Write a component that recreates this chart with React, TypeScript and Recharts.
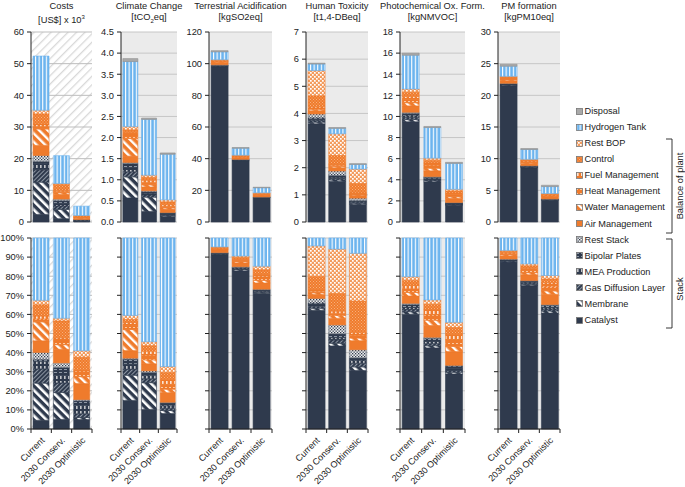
import React from "react";
import { Bar, BarChart, CartesianGrid, XAxis, YAxis } from "recharts";

const FONT = "'Liberation Sans', Arial, sans-serif";

const scenarios = ["Current", "2030 Conserv.", "2030 Optimistic"];

// stacking order, bottom to top
const components = [
  "Catalyst",
  "Membrane",
  "Gas Diffusion Layer",
  "MEA Production",
  "Bipolar Plates",
  "Rest Stack",
  "Air Management",
  "Water Management",
  "Heat Management",
  "Fuel Management",
  "Control",
  "Rest BOP",
  "Hydrogen Tank",
  "Disposal",
];

// one row per component, one column per scenario
const costs = [
  [2.4, 1.05, 0.25],
  [10.2, 2.95, 0.05],
  [3.9, 1.05, 0.1],
  [2.1, 0.85, 0.22],
  [0.5, 0.85, 0.12],
  [1.9, 0.5, 0.03],
  [3.2, 1.5, 0.42],
  [5.2, 0.5, 0.18],
  [0.8, 0.4, 0.15],
  [0.8, 0.35, 0.03],
  [3.1, 1.85, 0.33],
  [1.2, 0.3, 0.17],
  [17.1, 8.8, 2.95],
  [0, 0, 0],
];

const climate = [
  [0.57, 0.25, 0.13],
  [0.5, 0.34, 0.025],
  [0.12, 0.05, 0.02],
  [0.1, 0.04, 0.02],
  [0.1, 0.04, 0.025],
  [0.02, 0.02, 0.005],
  [0.15, 0.09, 0.08],
  [0.42, 0.05, 0.03],
  [0.08, 0.06, 0.04],
  [0.06, 0.05, 0.04],
  [0.06, 0.07, 0.06],
  [0.08, 0.05, 0.05],
  [1.54, 1.32, 1.08],
  [0.07, 0.03, 0.03],
];

const acidification = [
  [98, 38.6, 15.4],
  [0.3, 0.3, 0.1],
  [0.3, 0.2, 0.1],
  [0.2, 0.2, 0.1],
  [0.3, 0.2, 0.1],
  [0.2, 0.1, 0.05],
  [1.5, 0.9, 0.7],
  [0.3, 0.3, 0.3],
  [0.3, 0.3, 0.4],
  [0.3, 0.3, 0.3],
  [0.5, 0.5, 0.5],
  [0.3, 0.3, 0.4],
  [5, 4.4, 3.2],
  [0.7, 0.4, 0.3],
];

const toxicity = [
  [3.62, 1.5, 0.65],
  [0.06, 0.05, 0.04],
  [0.06, 0.06, 0.04],
  [0.04, 0.04, 0.03],
  [0.06, 0.07, 0.03],
  [0.14, 0.16, 0.09],
  [0.12, 0.12, 0.1],
  [0.05, 0.05, 0.03],
  [0.05, 0.04, 0.03],
  [0.05, 0.04, 0.03],
  [0.4, 0.32, 0.35],
  [0.93, 0.8, 0.53],
  [0.24, 0.2, 0.17],
  [0.03, 0.03, 0.03],
];

const photochem = [
  [9.5, 3.8, 1.6],
  [0.2, 0.1, 0.05],
  [0.2, 0.1, 0.05],
  [0.15, 0.1, 0.05],
  [0.25, 0.15, 0.08],
  [0.1, 0.05, 0.02],
  [0.6, 0.55, 0.4],
  [0.3, 0.25, 0.15],
  [0.3, 0.25, 0.2],
  [0.3, 0.25, 0.15],
  [0.4, 0.25, 0.2],
  [0.3, 0.2, 0.15],
  [3.2, 2.9, 2.45],
  [0.2, 0.1, 0.1],
];

const pmFormation = [
  [21.5, 8.6, 3.4],
  [0.1, 0.07, 0.06],
  [0.1, 0.07, 0.06],
  [0.05, 0.05, 0.04],
  [0.1, 0.08, 0.07],
  [0.05, 0.03, 0.02],
  [0.4, 0.35, 0.3],
  [0.15, 0.12, 0.1],
  [0.15, 0.13, 0.12],
  [0.15, 0.13, 0.12],
  [0.15, 0.15, 0.11],
  [0.1, 0.12, 0.1],
  [1.6, 1.55, 1.1],
  [0.3, 0.15, 0.2],
];

const costsTicks = [0, 10, 20, 30, 40, 50, 60];
const climateTicks = [0, 0.5, 1, 1.5, 2, 2.5, 3, 3.5, 4, 4.5];
const acidTicks = [0, 20, 40, 60, 80, 100, 120];
const toxTicks = [0, 1, 2, 3, 4, 5, 6, 7];
const photoTicks = [0, 2, 4, 6, 8, 10, 12, 14, 16, 18];
const pmTicks = [0, 5, 10, 15, 20, 25, 30];
const shareTicks = [0, 0.1, 0.2, 0.3, 0.4, 0.5, 0.6, 0.7, 0.8, 0.9, 1];

const NAVY = "#2f3a4d";
const ORANGE = "#ef7b2c";
const BLUE = "#6cb4ee";

const fills = [
  NAVY,
  "url(#pMem)",
  "url(#pGdl)",
  "url(#pMea)",
  "url(#pBip)",
  "url(#pRest)",
  ORANGE,
  "url(#pWater)",
  "url(#pHeat)",
  "url(#pFuel)",
  "url(#pCtrl)",
  "url(#pBop)",
  "url(#pH2)",
  "#a9a9a9",
];
const strokes = [
  NAVY, NAVY, NAVY, NAVY, NAVY, "#6b7380",
  ORANGE, ORANGE, ORANGE, ORANGE, ORANGE, ORANGE,
  BLUE, "#8f8f8f",
];

type Panel = {
  title: string;
  unit: React.ReactNode;
  values: number[][];
  ticks: number[];
  fmt: (v: number) => string;
  left: number;
  right: number;
  bg: string;
};

const panels: Panel[] = [
  { title: "Costs", unit: <>[US$] x 10<sup style={{ fontSize: 6 }}>3</sup></>, values: costs, ticks: costsTicks, fmt: (v) => String(v), left: 31, right: 92, bg: "url(#pCostBg)" },
  { title: "Climate Change", unit: <>[tCO<sub style={{ fontSize: 6 }}>2</sub>eq]</>, values: climate, ticks: climateTicks, fmt: (v) => v.toFixed(1), left: 121, right: 177, bg: "#ebebeb" },
  { title: "Terrestrial Acidification", unit: "[kgSO2eq]", values: acidification, ticks: acidTicks, fmt: (v) => String(v), left: 209, right: 272, bg: "#ebebeb" },
  { title: "Human Toxicity", unit: "[t1,4-DBeq]", values: toxicity, ticks: toxTicks, fmt: (v) => String(v), left: 306, right: 368, bg: "#ebebeb" },
  { title: "Photochemical Ox. Form.", unit: "[kgNMVOC]", values: photochem, ticks: photoTicks, fmt: (v) => String(v), left: 400, right: 465, bg: "#ebebeb" },
  { title: "PM formation", unit: "[kgPM10eq]", values: pmFormation, ticks: pmTicks, fmt: (v) => String(v), left: 498, right: 560, bg: "#ebebeb" },
];

const rowsFor = (values: number[][]) =>
  scenarios.map((name, j) => {
    const row: Record<string, number | string> = { name };
    components.forEach((_, i) => {
      row[`c${i}`] = values[i][j];
    });
    return row;
  });

const AXIS_W = 32;

function Patterns() {
  return (
    <svg width={0} height={0} style={{ position: "absolute", left: 0, top: 0 }}>
      <defs>
        <pattern id="pCostBg" width="6" height="6" patternUnits="userSpaceOnUse" patternTransform="rotate(45)">
          <rect width="6" height="6" fill="#ffffff" />
          <rect width="1.3" height="6" fill="#d9d9d9" />
        </pattern>
        <pattern id="pMem" width="6" height="6" patternUnits="userSpaceOnUse" patternTransform="rotate(-45)">
          <rect width="6" height="6" fill={NAVY} />
          <rect width="2.6" height="6" fill="#ffffff" />
        </pattern>
        <pattern id="pGdl" width="3" height="3" patternUnits="userSpaceOnUse" patternTransform="rotate(45)">
          <rect width="3" height="3" fill={NAVY} />
          <rect width="1" height="3" fill="#8e97a4" />
        </pattern>
        <pattern id="pMea" width="4" height="5" patternUnits="userSpaceOnUse">
          <rect width="4" height="5" fill={NAVY} />
          <rect x="1.2" y="1" width="1.3" height="3" fill="#e6e6e6" />
        </pattern>
        <pattern id="pBip" width="5" height="3" patternUnits="userSpaceOnUse">
          <rect width="5" height="3" fill={NAVY} />
          <rect x="0" y="1" width="3" height="1" fill="#8e97a4" />
        </pattern>
        <pattern id="pRest" width="3" height="3" patternUnits="userSpaceOnUse">
          <rect width="3" height="3" fill="#eeeeee" />
          <rect width="1.3" height="1.3" fill={NAVY} />
          <rect x="1.5" y="1.5" width="1.3" height="1.3" fill={NAVY} />
        </pattern>
        <pattern id="pWater" width="6" height="6" patternUnits="userSpaceOnUse" patternTransform="rotate(-45)">
          <rect width="6" height="6" fill={ORANGE} />
          <rect width="2.4" height="6" fill="#ffffff" />
        </pattern>
        <pattern id="pHeat" width="4" height="4" patternUnits="userSpaceOnUse">
          <rect width="4" height="4" fill={ORANGE} />
          <rect x="0" y="1" width="2" height="1" fill="#fbc9a2" />
        </pattern>
        <pattern id="pFuel" width="4" height="5" patternUnits="userSpaceOnUse">
          <rect width="4" height="5" fill={ORANGE} />
          <rect x="1.2" y="1" width="1.3" height="3" fill="#ffffff" />
        </pattern>
        <pattern id="pCtrl" width="3" height="3" patternUnits="userSpaceOnUse">
          <rect width="3" height="3" fill={ORANGE} />
          <rect width="1" height="1" fill="#f8b07c" />
          <rect x="1.5" y="1.5" width="1" height="1" fill="#f8b07c" />
        </pattern>
        <pattern id="pBop" width="4" height="4" patternUnits="userSpaceOnUse">
          <rect width="4" height="4" fill="#f39c5e" />
          <rect width="1.7" height="1.7" fill="#ffffff" />
          <rect x="2" y="2" width="1.7" height="1.7" fill="#ffffff" />
        </pattern>
        <pattern id="pH2" width="3.6" height="4" patternUnits="userSpaceOnUse">
          <rect width="3.6" height="4" fill={BLUE} />
          <rect width="1.1" height="4" fill="#ffffff" />
        </pattern>
      </defs>
    </svg>
  );
}

// rotated category label, plus the small tick marks between categories
const makeRotTick = (band: number) => (props: any) => {
  const { x, y, payload, index } = props;
  const tx = x + 4;
  const ty = y + 12;
  return (
    <g>
      <line x1={x - band / 2} x2={x - band / 2} y1={y} y2={y + 4} stroke="#222" />
      {index === scenarios.length - 1 && <line x1={x + band / 2} x2={x + band / 2} y1={y} y2={y + 4} stroke="#222" />}
      <text x={tx} y={ty} transform={`rotate(-45 ${tx} ${ty})`} textAnchor="end" fontSize={9} fill="#222" fontFamily={FONT}>
        {payload.value}
      </text>
    </g>
  );
};

function StackChart({ panel, share, showTicks }: { panel: Panel; share: boolean; showTicks: boolean }) {
  const rows = rowsFor(panel.values);
  // the percentage panels leave disposal out
  const shown = share ? components.slice(0, 13) : components;
  const plotW = panel.right - panel.left;
  const bottomH = share ? 58 : 0;
  const plotH = share ? 191 : 190;
  const mTop = 8;
  const mBottom = share ? 2 : 8;
  const RotTick = makeRotTick(plotW / scenarios.length);
  return (
    <div style={{ position: "absolute", left: panel.left - AXIS_W, top: (share ? 238 : 32) - mTop }}>
      <BarChart
        width={AXIS_W + plotW + 2}
        height={mTop + plotH + bottomH + mBottom}
        data={rows}
        margin={{ top: mTop, right: 2, bottom: mBottom, left: 0 }}
        barCategoryGap="10%"
        stackOffset={share ? "expand" : "none"}
      >
        <CartesianGrid vertical={false} stroke={panel.bg === "#ebebeb" ? "#c6c6c6" : "#bdbdbd"} fill={panel.bg} fillOpacity={1} />
        <XAxis
          dataKey="name"
          height={bottomH}
          interval={0}
          tickSize={0}
          tickMargin={0}
          tick={share ? <RotTick /> : false}
          tickLine={false}
          axisLine={{ stroke: "#222" }}
        />
        <XAxis xAxisId="top" orientation="top" dataKey="name" height={0} tick={false} tickLine={false} axisLine={{ stroke: "#4a4a4a" }} />
        <YAxis
          domain={share ? [0, 1] : [0, panel.ticks[panel.ticks.length - 1]]}
          ticks={share ? shareTicks : panel.ticks}
          interval={0}
          width={AXIS_W}
          tickSize={4}
          tickMargin={3}
          tick={{ fontSize: 9.3, fill: "#222", fontFamily: FONT }}
          tickFormatter={(v: number) => (share ? (showTicks ? `${Math.round(v * 100)}%` : "") : panel.fmt(v))}
          axisLine={{ stroke: "#222" }}
          tickLine={{ stroke: "#222" }}
        />
        <YAxis yAxisId="right" orientation="right" width={0} domain={[0, 1]} tick={false} tickLine={false} axisLine={{ stroke: "#4a4a4a" }} />
        {shown.map((c, i) => (
          <Bar key={c} dataKey={`c${i}`} name={c} stackId="s" fill={fills[i]} stroke={strokes[i]} strokeWidth={0.6} isAnimationActive={false} />
        ))}
      </BarChart>
    </div>
  );
}

export default function App() {
  const legendOrder = components.map((c, i) => ({ c, i })).reverse();
  return (
    <div style={{ position: "absolute", left: 0, top: 0, width: 685, height: 487, background: "#fff", fontFamily: FONT, color: "#222", overflow: "hidden" }}>
      <Patterns />
      {panels.map((p) => (
        <div
          key={p.title}
          style={{ position: "absolute", left: (p.left + p.right) / 2 - 70, top: 0.5, width: 140, textAlign: "center", fontSize: 9.3, lineHeight: "11px", whiteSpace: "nowrap" }}
        >
          <div>{p.title}</div>
          <div>{p.unit}</div>
        </div>
      ))}
      {panels.map((p) => (
        <StackChart key={`t-${p.title}`} panel={p} share={false} showTicks />
      ))}
      {panels.map((p, k) => (
        <StackChart key={`b-${p.title}`} panel={p} share showTicks={k === 0} />
      ))}
      {legendOrder.map(({ c, i }, k) => (
        <div key={c} style={{ position: "absolute", left: 576, top: 111 + k * 16.08 - 6, height: 12, display: "flex", alignItems: "center", fontSize: 9.2, whiteSpace: "nowrap" }}>
          <svg width={7} height={7} style={{ marginRight: 1.5 }}>
            <rect x={0.5} y={0.5} width={6} height={6} fill={fills[i]} stroke="#777" strokeWidth={0.8} />
          </svg>
          <span>{c}</span>
        </div>
      ))}
      <svg width={685} height={487} style={{ position: "absolute", left: 0, top: 0, pointerEvents: "none" }}>
        <polyline points="666,139 672,139 672,233 666,233" fill="none" stroke="#222" strokeWidth={0.9} />
        <polyline points="666,239 672,239 672,328 666,328" fill="none" stroke="#222" strokeWidth={0.9} />
        <text x={681} y={186} transform="rotate(-90 681 186)" textAnchor="middle" dominantBaseline="middle" fontSize={9.3} fontFamily={FONT} fill="#222">
          Balance of plant
        </text>
        <text x={681} y={289} transform="rotate(-90 681 289)" textAnchor="middle" dominantBaseline="middle" fontSize={9.3} fontFamily={FONT} fill="#222">
          Stack
        </text>
      </svg>
    </div>
  );
}
